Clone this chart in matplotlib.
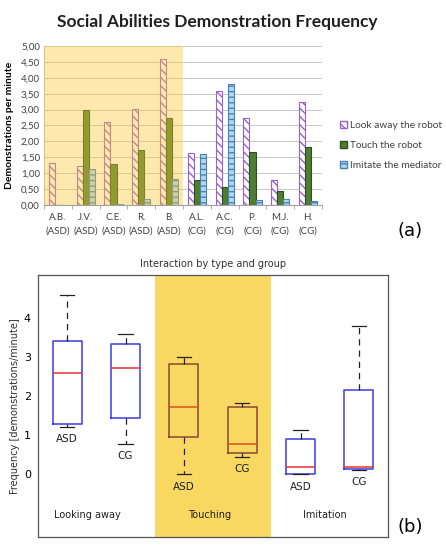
import numpy as np
import matplotlib.pyplot as plt
from matplotlib.patches import Patch

# dados do gráfico (a)
children = ['A.B.', 'J.V.', 'C.E.', 'R.', 'B.', 'A.L.', 'A.C.', 'P.', 'M.J.', 'H.']
groups = ['ASD', 'ASD', 'ASD', 'ASD', 'ASD', 'CG', 'CG', 'CG', 'CG', 'CG']
look_away = [1.32, 1.22, 2.60, 3.02, 4.58, 1.65, 3.60, 2.73, 0.78, 3.25]
touch = [0.00, 3.00, 1.28, 1.72, 2.75, 0.78, 0.58, 1.68, 0.45, 1.83]
imitate = [0.00, 1.13, 0.03, 0.20, 0.82, 1.60, 3.80, 0.15, 0.20, 0.12]
series_names = ['Look away the robot', 'Touch the robot', 'Imitate the mediator']

# dados do gráfico (b)
interaction_types = ['Looking away', 'Touching', 'Imitation']
group_names = ['ASD', 'CG']

fig = plt.figure(figsize=(4.46, 5.56), dpi=100)
excel_font = 'Lato'

# ---------------- (a) barras ----------------
ax1 = fig.add_axes([44/446, 1-205/556, (322-44)/446, (205-46)/556])
x = np.arange(len(children))
w = 0.22
b1 = ax1.bar(x - w, look_away, w, facecolor='white', edgecolor='#9b5fd0',
             hatch='\\\\\\\\', linewidth=0.8, zorder=2)
b2 = ax1.bar(x, touch, w, facecolor='#4f7d34', edgecolor='#2f4f1e',
             linewidth=0.8, zorder=2)
b3 = ax1.bar(x + w, imitate, w, facecolor='#b0d8f2', edgecolor='#4b82b5',
             hatch='---', linewidth=0.8, zorder=2)

# faixa amarela do grupo ASD (sobreposta às barras)
ax1.axvspan(-0.5, 4.5, color=(250/255, 200/255, 50/255), alpha=0.4,
            lw=0, zorder=3)

ax1.set_xlim(-0.5, len(children) - 0.5)
ax1.set_ylim(0, 5)
yt = np.arange(0, 5.01, 0.5)
ax1.set_yticks(yt)
ax1.set_yticklabels([f'{v:.2f}'.replace('.', ',') for v in yt],
                    fontsize=7, color='#404040', family=excel_font)
ax1.yaxis.grid(True, color='#c8c8c8', lw=0.7, zorder=0)
ax1.set_axisbelow(True)
ax1.set_xticks(x)
ax1.set_xticklabels([f'{c}\n({g})' for c, g in zip(children, groups)],
                    fontsize=7, color='#404040', linespacing=1.6,
                    family=excel_font)
ax1.set_xticks(np.arange(-0.5, len(children)), minor=True)
ax1.tick_params(axis='x', which='major', length=0, pad=6)
ax1.tick_params(axis='x', which='minor', length=3, color='#a0a0a0')
ax1.tick_params(axis='y', length=0, pad=3)
for s in ['top', 'right']:
    ax1.spines[s].set_visible(False)
ax1.spines['left'].set_color('#c8c8c8')
ax1.spines['bottom'].set_color('#a0a0a0')
ax1.set_ylabel('Demonstrations per minute', fontsize=7.5, fontweight='bold',
               family=excel_font, labelpad=5)
fig.text(217/446, 1-22/556, 'Social Abilities Demonstration Frequency',
         fontsize=12.5, fontweight='bold', family=excel_font,
         ha='center', va='center', color='#202020')

handles = [Patch(facecolor='white', edgecolor='#9b5fd0', hatch='\\\\\\\\'),
           Patch(facecolor='#4f7d34', edgecolor='#2f4f1e'),
           Patch(facecolor='#b0d8f2', edgecolor='#4b82b5', hatch='---')]
fig.legend(handles, series_names, loc='upper left',
           bbox_to_anchor=(331/446, 1-112/556), frameon=False,
           prop=dict(family=excel_font, size=7.3),
           handlelength=0.7, handleheight=0.7,
           handletextpad=0.3, labelspacing=1.05, labelcolor='#404040')
fig.text(410/446, 1-231/556, '(a)', fontsize=13, ha='center', va='center')

# ---------------- (b) boxplot ----------------
ax2 = fig.add_axes([38/446, 1-537/556, (388-38)/446, (537-275)/556])
samples = [look_away[:5], look_away[5:], touch[:5], touch[5:],
           imitate[:5], imitate[5:]]
stats = []
for s in samples:
    d = np.sort(np.array(s))
    q1, med, q3 = np.percentile(d, [25, 50, 75], method='hazen')
    iqr = q3 - q1
    lo = d[d >= q1 - 1.5 * iqr].min()
    hi = d[d <= q3 + 1.5 * iqr].max()
    stats.append(dict(med=med, q1=q1, q3=q3, whislo=lo, whishi=hi, fliers=[]))

pos = np.arange(1, 7)
ax2.axvspan(2.5, 4.5, color='#f9d862', lw=0, zorder=0)
for i, (st, p) in enumerate(zip(stats, pos)):
    inside = 2.5 < p < 4.5
    box_c = '#8a4636' if inside else '#3c3ce0'
    med_c = '#e0501c' if inside else '#e83030'
    ax2.bxp([st], positions=[p], widths=0.5, showfliers=False,
            boxprops=dict(color=box_c, lw=1.1),
            medianprops=dict(color=med_c, lw=1.1),
            whiskerprops=dict(color='#222222', lw=0.9, linestyle=(0, (5, 4))),
            capprops=dict(color='#222222', lw=0.9), capwidths=0.25,
            zorder=2)
    ax2.text(p, st['whislo'] - 0.32, group_names[i % 2], fontsize=7.5,
             ha='center', va='center', color='#202020')

for name, gx in zip(interaction_types, [1.35, 3.45, 5.42]):
    ax2.text(gx, -1.04, name, fontsize=7, ha='center', va='center',
             color='#202020')

ax2.set_xlim(0.5, 6.5)
ax2.set_ylim(-1.6, 5.1)
ax2.set_xticks([])
ax2.set_yticks([0, 1, 2, 3, 4])
ax2.tick_params(axis='y', length=0, labelsize=8, pad=5)
for s in ax2.spines.values():
    s.set_color('#555555')
    s.set_linewidth(0.9)
ax2.set_ylabel('Frequency [demonstrations/minute]', fontsize=7, labelpad=3,
               color='#303030')
ax2.set_title('Interaction by type and group', fontsize=7, pad=6,
              color='#303030')
fig.text(410/446, 1-527/556, '(b)', fontsize=13, ha='center', va='center')
fig.text(211/446, -0.012, 'ASD vs Control Group', fontsize=7,
         ha='center', va='center', color='#303030')

fig.savefig('out.png', dpi=100)
